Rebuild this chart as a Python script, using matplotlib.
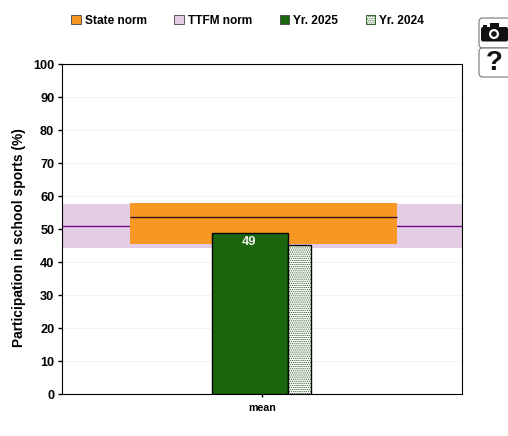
import matplotlib
matplotlib.use("Agg")
import matplotlib.pyplot as plt
from matplotlib.patches import Patch, FancyBboxPatch, Rectangle, Circle

plt.rcParams["font.family"] = ["Liberation Sans", "DejaVu Sans"]
plt.rcParams["hatch.linewidth"] = 0.5

categories = ["mean"]
yr_2025 = [49]
yr_2024 = [45.2]
state_low = 45.5
state_high = 58
state_mean = 53.7
ttfm_low = 44.3
ttfm_high = 57.7
ttfm_mean = 51.1
y_ticks = list(range(0, 101, 10))

W, H = 508, 436
fig = plt.figure(figsize=(W / 100, H / 100), dpi=100)
ax = fig.add_axes([62 / W, 1 - 394 / H, 400 / W, 329.5 / H])

# TTFM norm spans the whole width, state norm sits on top of it
ax.axhspan(ttfm_low, ttfm_high, color="#e3cde5", lw=0, zorder=1)
ax.axhline(ttfm_mean, color="#6d0f80", lw=1, zorder=2)
ax.axhspan(state_low, state_high, xmin=0.17, xmax=0.8375, color="#f79824", lw=0, zorder=3)
ax.plot([-0.33, 0.3375], [state_mean, state_mean], color="#3a1010", lw=1, zorder=4, solid_capstyle="butt")

x = range(len(categories))
ax.bar([i - 0.03 for i in x], yr_2025, width=0.19, color="#1b660c", edgecolor="black", lw=1, zorder=5)
# dots in green, outline drawn separately in black
ax.bar([i + 0.09375 for i in x], yr_2024, width=0.0575, color="white", edgecolor="#0f4a06",
       hatch="........", lw=0, zorder=5)
ax.bar([i + 0.09375 for i in x], yr_2024, width=0.0575, fill=False, edgecolor="black", lw=1, zorder=5)
ax.text(-0.033, yr_2025[0] - 1.0, str(yr_2025[0]), color="#f2f2f2", fontsize=9.2, fontweight="bold",
        ha="center", va="top", zorder=6)

ax.set_xlim(-0.5, 0.5)
ax.set_ylim(0, 100)
ax.set_xticks(list(x), categories, fontsize=7.7, fontweight="bold")
ax.set_yticks(y_ticks)
ax.tick_params(axis="y", labelsize=9.2, length=3, width=1, pad=2.5)
ax.tick_params(axis="x", length=2.5, width=1, pad=4)
for label in ax.get_yticklabels():
    label.set_fontweight("bold")
ax.grid(axis="y", color="#f2f2f2", lw=0.8, zorder=0)
ax.set_axisbelow(True)
ax.set_ylabel("Participation in school sports (%)", fontsize=9.9, fontweight="bold")
ax.yaxis.set_label_coords((26 - 62) / 400, 0.475)

handles = [
    Patch(facecolor="#f79824", edgecolor="#444444", lw=0.6, label="State norm"),
    Patch(facecolor="#e3cde5", edgecolor="#444444", lw=0.6, label="TTFM norm"),
    Patch(facecolor="#1b660c", edgecolor="#444444", lw=0.6, label="Yr. 2025"),
    Patch(facecolor="white", edgecolor="#0f4a06", lw=0.6, hatch="........", label="Yr. 2024"),
]
fig.legend(handles=handles, ncols=4, loc="center left", bbox_to_anchor=(71 / W, 1 - 21 / H), frameon=False,
           prop={"size": 8.6, "weight": "bold"}, handlelength=0.8, handleheight=0.8, handletextpad=0.35,
           columnspacing=2.3, borderpad=0, borderaxespad=0)

# camera and help buttons in the top right corner
ui = fig.add_axes([0, 0, 1, 1], facecolor="none")
ui.set_xlim(0, W)
ui.set_ylim(H, 0)
ui.axis("off")
ui.add_patch(FancyBboxPatch((479, 18), 40, 30, boxstyle="round,pad=0,rounding_size=4", fc="white", ec="#777777", lw=0.8))
ui.add_patch(FancyBboxPatch((479, 48), 40, 29, boxstyle="round,pad=0,rounding_size=4", fc="white", ec="#777777", lw=0.8))
ui.add_patch(FancyBboxPatch((481, 27), 27, 14.5, boxstyle="round,pad=0,rounding_size=2", fc="#111111", ec="none"))
ui.add_patch(Rectangle((490, 23.5), 9, 4, fc="#111111", ec="none"))
ui.add_patch(Rectangle((483, 25), 4, 2, fc="#111111", ec="none"))
ui.add_patch(Circle((494, 34), 5, fc="white", ec="none"))
ui.add_patch(Circle((494, 34), 2.8, fc="#111111", ec="none"))
ui.text(494, 62.5, "?", fontsize=20, fontweight="bold", ha="center", va="center", color="#111111")

fig.savefig("out.png", dpi=100)
